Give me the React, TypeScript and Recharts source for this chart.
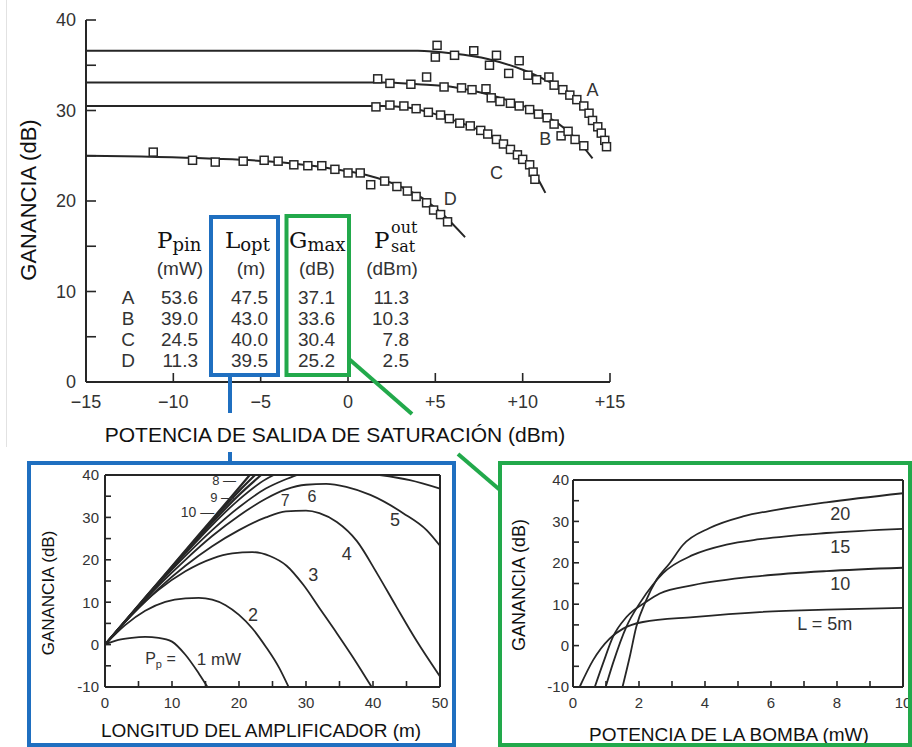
import React from "react";
import { ComposedChart, Line, Scatter, XAxis, YAxis, ReferenceDot } from "recharts";

const INK = "#262626";
const TXT = "#333333";
const BLUE = "#1f6fc0";
const GREEN = "#22a94b";
const SANS = '"Liberation Sans", Arial, sans-serif';
const SERIF = '"DejaVu Serif", serif';

// ---- top chart: gain vs saturation output power (dBm) ----
const lineA = [[-15, 36.6], [4, 36.6], [6, 36.3], [8, 35.7], [10, 34.5], [11.5, 33.2], [12.5, 32.2], [13.5, 30.4], [14.3, 28.3], [14.9, 26.0]];
const lineB = [[-15, 33.1], [2, 33.1], [4, 32.9], [6, 32.6], [8, 31.8], [9.5, 30.9], [11, 29.7], [12, 28.6], [13, 27.0], [14, 24.7]];
const lineC = [[-15, 30.5], [2, 30.5], [3.5, 30.3], [5, 29.6], [6.5, 28.6], [8, 27.4], [9, 26.2], [10, 24.7], [10.7, 23.0], [11.3, 20.9]];
const lineD = [[-15, 25.0], [-8, 24.7], [-4, 24.3], [-1, 23.6], [1, 22.9], [3, 21.6], [4.5, 20.0], [5.5, 18.4], [6.7, 16.0]];

const markA = [[5.1, 37.2], [5.0, 35.9], [6.1, 36.1], [7.2, 36.6], [8.1, 35.0], [8.5, 36.1], [9.2, 34.1], [9.8, 35.5], [10.3, 33.9], [10.8, 33.4], [11.5, 33.7], [11.8, 32.8], [12.3, 32.3], [12.7, 31.7], [13.1, 31.2], [13.5, 30.5], [13.8, 29.7], [14.0, 28.9], [14.3, 28.2], [14.5, 27.5], [14.7, 26.7], [14.8, 26.0]];
const markB = [[1.7, 33.5], [2.4, 33.0], [3.6, 32.9], [4.5, 33.7], [5.5, 32.6], [6.5, 32.5], [7.1, 32.3], [7.9, 32.4], [8.2, 31.4], [8.7, 31.0], [9.3, 30.8], [9.8, 30.5], [10.4, 30.1], [10.9, 29.6], [11.4, 29.2], [11.8, 28.5], [12.2, 27.2], [12.6, 27.7], [13.0, 26.8], [13.5, 26.1]];
const markC = [[1.6, 30.4], [2.4, 30.6], [3.2, 30.5], [3.9, 30.2], [4.6, 29.8], [5.3, 29.5], [5.8, 29.1], [6.4, 28.6], [7.0, 28.3], [7.6, 27.8], [8.0, 27.4], [8.5, 26.8], [8.9, 26.3], [9.3, 25.7], [9.7, 25.1], [10.0, 24.6], [10.4, 24.0], [10.6, 23.2], [10.7, 22.4]];
const markD = [[-11.15, 25.4], [-8.9, 24.5], [-7.6, 24.3], [-6.0, 24.4], [-4.8, 24.5], [-4.0, 24.4], [-3.1, 24.0], [-2.3, 23.9], [-1.5, 23.9], [-0.75, 23.5], [0.0, 23.1], [0.7, 23.1], [1.3, 21.8], [2.1, 22.2], [2.8, 21.6], [3.4, 21.1], [3.9, 20.5], [4.5, 19.8], [4.9, 19.0], [5.3, 18.5], [5.7, 17.7]];

const topCurveLabels = [
  { x: 14.0, y: 32.3, t: "A" },
  { x: 11.3, y: 26.9, t: "B" },
  { x: 8.5, y: 23.1, t: "C" },
  { x: 5.85, y: 20.3, t: "D" },
];
const topXTicks = [-15, -10, -5, 0, 5, 10, 15];
const topYTicks = [0, 5, 10, 15, 20, 25, 30, 35, 40];

// ---- table ----
const tableRows = ["A", "B", "C", "D"];
const pumpPower = ["53.6", "39.0", "24.5", "11.3"];
const optLength = ["47.5", "43.0", "40.0", "39.5"];
const maxGain = ["37.1", "33.6", "30.4", "25.2"];
const satPower = ["11.3", "10.3", "7.8", "2.5"];

// ---- bottom left: gain vs amplifier length, pump 1..10 mW ----
const pump1 = [[0, 0], [2, 1.1], [4, 1.6], [6, 1.8], [8, 1.6], [10, 0.7], [12, -2.4], [14, -6.8], [15.3, -10]];
const pump2 = [[0, 0], [3, 4.6], [6, 8.0], [9, 10.1], [12, 10.9], [14, 11.0], [16, 10.6], [18, 9.3], [20, 7.0], [22, 3.8], [24, -0.5], [26, -5.5], [27.4, -10]];
const pump3 = [[0, 0], [4, 7.0], [8, 12.9], [12, 17.3], [16, 20.3], [19, 21.5], [22, 21.8], [24.6, 20.9], [27.1, 18.6], [29.6, 14.1], [32.1, 8.4], [34.6, 2.7], [37.1, -3.2], [39.8, -10]];
const pump4 = [[0, 0], [4, 7.0], [8, 13.2], [12, 18.6], [16, 23.2], [20, 27.0], [24, 30.0], [27, 31.4], [30, 31.6], [32, 31.0], [34.6, 28.9], [37.6, 24.4], [40.6, 16.8], [43.5, 8.9], [46.5, 0.9], [50, -7.5]];
const pump5 = [[0, 0], [4, 7.2], [8, 13.9], [12, 20.0], [16, 25.6], [20, 30.4], [24, 34.4], [27, 36.6], [30, 37.7], [33, 37.9], [36, 37.2], [39.6, 35.3], [44.5, 31.0], [48, 27.0], [50, 23.3]];
const pump6 = [[0, 0], [4, 7.3], [8, 14.3], [12, 20.9], [16, 27.0], [20, 32.4], [24, 36.8], [27, 39.0], [28.6, 40], [35, null], [41, 40], [45.5, 38.8], [50, 36.8]];
const pump7 = [[0, 0], [4, 7.3], [8, 14.5], [12, 21.5], [16, 28.2], [20, 34.2], [24, 39.0], [25.2, 40]];
const pump8 = [[0, 0], [4, 7.3], [8, 14.6], [12, 21.8], [16, 28.8], [20, 35.3], [23.3, 40]];
const pump9 = [[0, 0], [4, 7.35], [8, 14.7], [12, 22.0], [16, 29.3], [20, 36.2], [22.4, 40]];
const pump10 = [[0, 0], [4, 7.4], [8, 14.8], [12, 22.2], [16, 29.6], [20, 37.0], [21.6, 40]];

const pumpLabels = [
  { x: 22.1, y: 7.0, t: "2", size: 18, anchor: "middle" },
  { x: 31.1, y: 16.4, t: "3", size: 18, anchor: "middle" },
  { x: 36.1, y: 21.5, t: "4", size: 18, anchor: "middle" },
  { x: 43.3, y: 29.4, t: "5", size: 18, anchor: "middle" },
  { x: 30.9, y: 34.9, t: "6", size: 16, anchor: "middle" },
  { x: 26.9, y: 34.1, t: "7", size: 16, anchor: "middle" },
  { x: 16.0, y: 38.6, t: "8 —", size: 13, anchor: "start" },
  { x: 15.7, y: 34.8, t: "9 —", size: 13, anchor: "start" },
  { x: 11.3, y: 31.3, t: "10 —", size: 14, anchor: "start" },
  { x: 13.7, y: -3.3, t: "1 mW", size: 17, anchor: "start" },
];
const lengthTicks = [0, 5, 10, 15, 20, 25, 30, 35, 40, 45, 50];
const gainTicks = [-10, -5, 0, 5, 10, 15, 20, 25, 30, 35, 40];

// ---- bottom right: gain vs pump power, L = 5..20 m ----
const len5 = [[0.2, -10], [0.61, -3.5], [1.11, 1.7], [1.52, 4.1], [2.12, 5.7], [3.64, 6.9], [5.66, 8.1], [7.68, 8.7], [10, 9.1]];
const len10 = [[0.66, -10], [0.91, -4.3], [1.21, 2.1], [1.62, 6.9], [2.22, 10.6], [2.63, 12.6], [3.64, 14.6], [5.66, 16.8], [7.68, 18.0], [10, 18.8]];
const len15 = [[0.99, -10], [1.21, -4.3], [1.62, 4.6], [2.02, 10.2], [2.42, 14.7], [2.73, 17.5], [3.64, 21.9], [4.65, 24.4], [5.66, 25.7], [7.68, 27.2], [10, 28.2]];
const len20 = [[1.5, -10], [1.72, -2.7], [1.92, 4.6], [2.22, 11.0], [2.53, 15.9], [2.93, 19.9], [3.33, 24.3], [4.14, 28.4], [5.15, 31.2], [6.16, 32.8], [7.68, 34.6], [10, 36.8]];
const lengthLabels = [
  { x: 8.1, y: 31.9, t: "20" },
  { x: 8.1, y: 23.9, t: "15" },
  { x: 8.1, y: 15.0, t: "10" },
  { x: 7.63, y: 5.3, t: "L = 5m" },
];
const pumpTicks = [0, 1, 2, 3, 4, 5, 6, 7, 8, 9, 10];

const pts = (arr: (number | null)[][]) => arr.map(([x, y]) => ({ x, y }));

const makeTick =
  (every: number, anchor: "end" | "middle", size: number, fmt: (v: number) => string = (v) => String(v)) =>
  (p: any) => {
    const v = p.payload.value;
    if (Math.abs(v % every) > 1e-9) return <g />;
    return (
      <text x={p.x} y={p.y} dy={anchor === "end" ? "0.36em" : "0.71em"} textAnchor={anchor} fontSize={size} fill={TXT} fontFamily={SANS}>
        {fmt(v)}
      </text>
    );
  };
const noTick = () => <g />;
const signed = (v: number) => (v < 0 ? "\u2212" + -v : v > 0 ? "+" + v : "0");

const SquareMark = (p: any) => (
  <rect x={p.cx - 4} y={p.cy - 4} width={8} height={8} fill="#fff" stroke={INK} strokeWidth={1.5} />
);

const axisStyle = { stroke: INK, strokeWidth: 2 };
const tickStyle = { stroke: INK, strokeWidth: 1.6 };

function TopChart() {
  const lines = [lineA, lineB, lineC, lineD];
  const marks = [markA, markB, markC, markD];
  return (
    <ComposedChart width={640} height={420} margin={{ top: 20, right: 30, bottom: 8, left: 46 }}>
      <XAxis type="number" dataKey="x" domain={[-15, 15]} ticks={topXTicks} interval={0} height={30}
        axisLine={axisStyle} tickLine={tickStyle} tickSize={-9} tickMargin={22} tick={makeTick(5, "middle", 18, signed)} />
      <YAxis type="number" domain={[0, 40]} ticks={topYTicks} interval={0} width={40}
        axisLine={axisStyle} tickLine={tickStyle} tickSize={-10} tickMargin={20} tick={makeTick(10, "end", 18)} />
      {lines.map((l, i) => (
        <Line key={"l" + i} data={pts(l)} dataKey="y" type="monotone" stroke={INK} strokeWidth={2} dot={false} isAnimationActive={false} />
      ))}
      {marks.map((m, i) => (
        <Scatter key={"m" + i} data={pts(m)} dataKey="y" shape={SquareMark} isAnimationActive={false} />
      ))}
      {topCurveLabels.map((lb) => (
        <ReferenceDot key={lb.t} x={lb.x} y={lb.y} r={0} ifOverflow="visible"
          shape={(p: any) => (
            <text x={p.cx} y={p.cy} dy="0.35em" textAnchor="middle" fontSize={18} fill={TXT} fontFamily={SANS}>{lb.t}</text>
          )} />
      ))}
    </ComposedChart>
  );
}

function LengthChart() {
  const curves = [pump1, pump2, pump3, pump4, pump5, pump6, pump7, pump8, pump9, pump10];
  return (
    <ComposedChart width={420} height={275} margin={{ top: 5, right: 0, bottom: 23, left: 35 }}>
      <XAxis xAxisId="b" type="number" dataKey="x" domain={[0, 50]} ticks={lengthTicks} interval={0} height={30}
        axisLine={axisStyle} tickLine={tickStyle} tickSize={-6} tickMargin={16} tick={makeTick(10, "middle", 15)} />
      <XAxis xAxisId="t" orientation="top" type="number" dataKey="x" domain={[0, 50]} ticks={lengthTicks} interval={0} height={5}
        axisLine={axisStyle} tickLine={tickStyle} tickSize={-6} tick={noTick} />
      <YAxis yAxisId="l" type="number" domain={[-10, 40]} ticks={gainTicks} interval={0} width={40}
        axisLine={axisStyle} tickLine={tickStyle} tickSize={-6} tickMargin={12} tick={makeTick(10, "end", 15)} />
      <YAxis yAxisId="r" orientation="right" type="number" domain={[-10, 40]} ticks={gainTicks} interval={0} width={10}
        axisLine={axisStyle} tickLine={tickStyle} tickSize={-6} tick={noTick} />
      {curves.map((c, i) => (
        <Line key={"p" + i} xAxisId="b" yAxisId="l" data={pts(c)} dataKey="y" type="monotone" stroke={INK}
          strokeWidth={i >= 7 ? 2.2 : 1.8} dot={false} isAnimationActive={false} />
      ))}
      {pumpLabels.map((lb) => (
        <ReferenceDot key={lb.t} xAxisId="b" yAxisId="l" x={lb.x} y={lb.y} r={0} ifOverflow="visible"
          shape={(p: any) => (
            <text x={p.cx} y={p.cy} dy="0.35em" textAnchor={lb.anchor as any} fontSize={lb.size} fill={TXT} fontFamily={SANS}>{lb.t}</text>
          )} />
      ))}
      <ReferenceDot xAxisId="b" yAxisId="l" x={6.0} y={-3.3} r={0} ifOverflow="visible"
        shape={(p: any) => (
          <text x={p.cx} y={p.cy} dy="0.35em" fontSize={16} fill={TXT} fontFamily={SANS}>
            P<tspan fontSize={11} dy={4}>p</tspan><tspan dy={-4}> =</tspan>
          </text>
        )} />
    </ComposedChart>
  );
}

function PumpChart() {
  const curves = [len5, len10, len15, len20];
  return (
    <ComposedChart width={405} height={272} margin={{ top: 7, right: 2, bottom: 23, left: 28 }}>
      <XAxis xAxisId="b" type="number" dataKey="x" domain={[0, 10]} ticks={pumpTicks} interval={0} height={30}
        axisLine={axisStyle} tickLine={tickStyle} tickSize={-6} tickMargin={16} tick={makeTick(2, "middle", 15)} />
      <XAxis xAxisId="t" orientation="top" type="number" dataKey="x" domain={[0, 10]} ticks={pumpTicks} interval={0} height={5}
        axisLine={axisStyle} tickLine={tickStyle} tickSize={-6} tick={noTick} />
      <YAxis yAxisId="l" type="number" domain={[-10, 40]} ticks={gainTicks} interval={0} width={40}
        axisLine={axisStyle} tickLine={tickStyle} tickSize={-6} tickMargin={10} tick={makeTick(10, "end", 15)} />
      <YAxis yAxisId="r" orientation="right" type="number" domain={[-10, 40]} ticks={gainTicks} interval={0} width={5}
        axisLine={axisStyle} tickLine={tickStyle} tickSize={-6} tick={noTick} />
      {curves.map((c, i) => (
        <Line key={"c" + i} xAxisId="b" yAxisId="l" data={pts(c)} dataKey="y" type="monotone" stroke={INK}
          strokeWidth={1.8} dot={false} isAnimationActive={false} />
      ))}
      {lengthLabels.map((lb) => (
        <ReferenceDot key={lb.t} xAxisId="b" yAxisId="l" x={lb.x} y={lb.y} r={0} ifOverflow="visible"
          shape={(p: any) => (
            <text x={p.cx} y={p.cy} dy="0.35em" textAnchor="middle" fontSize={18} fill={TXT} fontFamily={SANS}>{lb.t}</text>
          )} />
      ))}
    </ComposedChart>
  );
}

export default function App() {
  const rowBase = [304, 325, 346, 367];
  return (
    <div style={{ position: "absolute", left: 0, top: 0, width: 912, height: 747, background: "#fff", overflow: "hidden", fontFamily: SANS }}>
      <div style={{ position: "absolute", left: 0, top: 0 }}>
        <TopChart />
      </div>
      <div style={{ position: "absolute", left: 30, top: 465 }}>
        <LengthChart />
      </div>
      <div style={{ position: "absolute", left: 505, top: 468 }}>
        <PumpChart />
      </div>
      <svg width={912} height={747} style={{ position: "absolute", left: 0, top: 0, pointerEvents: "none" }}>
        <line x1={6.5} y1={0} x2={6.5} y2={447} stroke="#e2e2e2" strokeWidth={1} />
        {/* axis titles */}
        <text x={28} y={200} dy="0.35em" textAnchor="middle" fontSize={22} fill="#111" fontFamily={SANS} transform="rotate(-90 28 200)">GANANCIA (dB)</text>
        <text x={335} y={442} textAnchor="middle" fontSize={21} fill="#111" fontFamily={SANS}>POTENCIA DE SALIDA DE SATURACIÓN (dBm)</text>
        <text x={48} y={593} dy="0.35em" textAnchor="middle" fontSize={17} fill="#111" fontFamily={SANS} transform="rotate(-90 48 593)">GANANCIA (dB)</text>
        <text x={261} y={737} textAnchor="middle" fontSize={19} fill="#111" fontFamily={SANS}>LONGITUD DEL AMPLIFICADOR (m)</text>
        <text x={519} y={585} dy="0.35em" textAnchor="middle" fontSize={18} fill="#111" fontFamily={SANS} transform="rotate(-90 519 585)">GANANCIA (dB)</text>
        <text x={729} y={741} textAnchor="middle" fontSize={19} fill="#111" fontFamily={SANS}>POTENCIA DE LA BOMBA (mW)</text>

        {/* table headers */}
        <text x={157} y={248} fontSize={23} fill="#111" fontFamily={SERIF}>P<tspan fontSize={18} dy={3}>pin</tspan></text>
        <text x={225} y={248} fontSize={23} fill="#111" fontFamily={SERIF}>L<tspan fontSize={18} dy={3}>opt</tspan></text>
        <text x={289} y={248} fontSize={23} fill="#111" fontFamily={SERIF}>G<tspan fontSize={18} dy={3}>max</tspan></text>
        <text x={374} y={248} fontSize={23} fill="#111" fontFamily={SERIF}>P</text>
        <text x={391} y={233} fontSize={16} fill="#111" fontFamily={SERIF}>out</text>
        <text x={391} y={252} fontSize={16} fill="#111" fontFamily={SERIF}>sat</text>
        <text x={180} y={275} textAnchor="middle" fontSize={19} fill={TXT} fontFamily={SANS}>(mW)</text>
        <text x={251} y={275} textAnchor="middle" fontSize={19} fill={TXT} fontFamily={SANS}>(m)</text>
        <text x={317} y={275} textAnchor="middle" fontSize={19} fill={TXT} fontFamily={SANS}>(dB)</text>
        <text x={392} y={275} textAnchor="middle" fontSize={19} fill={TXT} fontFamily={SANS}>(dBm)</text>
        {tableRows.map((r, i) => (
          <g key={r} fontSize={19} fill={TXT} fontFamily={SANS}>
            <text x={128} y={rowBase[i]} textAnchor="middle">{r}</text>
            <text x={198} y={rowBase[i]} textAnchor="end">{pumpPower[i]}</text>
            <text x={268} y={rowBase[i]} textAnchor="end">{optLength[i]}</text>
            <text x={335} y={rowBase[i]} textAnchor="end">{maxGain[i]}</text>
            <text x={409} y={rowBase[i]} textAnchor="end">{satPower[i]}</text>
          </g>
        ))}

        {/* highlight boxes and connectors */}
        <rect x={211} y={217} width={67} height={158} fill="none" stroke={BLUE} strokeWidth={4} />
        <rect x={286.5} y={216} width={62.5} height={159} fill="none" stroke={GREEN} strokeWidth={4} />
        <line x1={230} y1={377} x2={230} y2={413} stroke={BLUE} strokeWidth={4} />
        <line x1={230} y1={452} x2={230} y2={463} stroke={BLUE} strokeWidth={4} />
        <line x1={349} y1={359} x2={412} y2={414} stroke={GREEN} strokeWidth={4} />
        <line x1={458} y1={454} x2={500} y2={490} stroke={GREEN} strokeWidth={4} />
        <rect x={29} y={463} width={425} height={282} fill="none" stroke={BLUE} strokeWidth={4} />
        <rect x={500} y={463} width={410} height={282} fill="none" stroke={GREEN} strokeWidth={4} />
      </svg>
    </div>
  );
}
